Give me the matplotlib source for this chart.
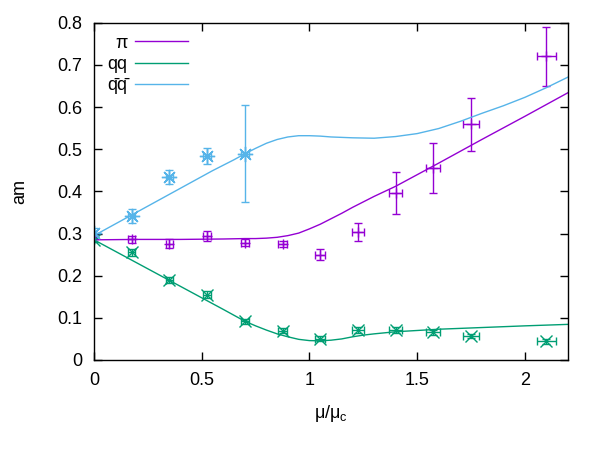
import matplotlib
matplotlib.use("Agg")
import matplotlib.pyplot as plt

plt.rcParams['font.family'] = ['Liberation Sans', 'DejaVu Sans']
plt.rcParams['mathtext.fontset'] = 'custom'
plt.rcParams['mathtext.rm'] = 'Liberation Sans'
plt.rcParams['mathtext.it'] = 'Liberation Sans:italic'

# ---- data ----
x_pts = [0, 0.175, 0.35, 0.525, 0.7, 0.875, 1.05, 1.225, 1.4, 1.575, 1.75, 2.1]
x_err = [0, 0.015, 0.016, 0.017, 0.018, 0.02, 0.022, 0.027, 0.03, 0.032, 0.037, 0.044]

pi_y = [0.292, 0.286, 0.276, 0.294, 0.278, 0.275, 0.25, 0.304, 0.396, 0.455, 0.559, 0.72]
pi_err = [0.005, 0.008, 0.01, 0.012, 0.008, 0.008, 0.013, 0.022, 0.05, 0.06, 0.063, 0.07]

qq_y = [0.285, 0.255, 0.189, 0.155, 0.092, 0.069, 0.05, 0.071, 0.072, 0.066, 0.057, 0.044]
qq_err = [0.005, 0.008, 0.007, 0.008, 0.006, 0.006, 0.006, 0.008, 0.007, 0.006, 0.005, 0.005]

qb_x = [0, 0.175, 0.35, 0.525, 0.7]
qb_xerr = [0, 0.015, 0.016, 0.017, 0.018]
qb_y = [0.302, 0.341, 0.434, 0.484, 0.489]
qb_err = [0.01, 0.017, 0.016, 0.018, 0.115]

pi_fit_x = [0, 0.2, 0.4, 0.6, 0.7, 0.75, 0.8, 0.85, 0.9, 0.95, 1.0, 1.05, 1.1, 1.15, 1.2, 1.25,
            1.3, 1.35, 1.4, 1.6, 1.8, 2.0, 2.2]
pi_fit_y = [0.285, 0.286, 0.286, 0.287, 0.288, 0.288, 0.289, 0.291, 0.295, 0.301, 0.311, 0.322,
            0.335, 0.348, 0.362, 0.375, 0.388, 0.400, 0.412, 0.467, 0.523, 0.578, 0.634]

qq_fit_x = [0, 0.2, 0.4, 0.6, 0.65, 0.7, 0.75, 0.8, 0.85, 0.9, 0.95, 1.0, 1.05, 1.1, 1.15, 1.2,
            1.25, 1.3, 1.4, 1.5, 1.6, 1.8, 2.0, 2.2]
qq_fit_y = [0.285, 0.230, 0.175, 0.120, 0.106, 0.092, 0.081, 0.071, 0.062, 0.055, 0.049, 0.046,
            0.0455, 0.047, 0.050, 0.055, 0.059, 0.062, 0.067, 0.070, 0.073, 0.077, 0.081, 0.0845]

qb_fit_x = [0, 0.2, 0.4, 0.55, 0.6, 0.65, 0.7, 0.75, 0.8, 0.85, 0.9, 0.95, 1.0, 1.05, 1.1, 1.2,
            1.3, 1.4, 1.5, 1.6, 1.7, 1.8, 1.9, 2.0, 2.1, 2.2]
qb_fit_y = [0.295, 0.351, 0.407, 0.449, 0.462, 0.475, 0.489, 0.502, 0.514, 0.523, 0.529, 0.532,
            0.532, 0.531, 0.529, 0.527, 0.526, 0.530, 0.537, 0.549, 0.566, 0.585, 0.603, 0.623,
            0.646, 0.671]

labels = ['π', 'qq', 'q\u0304q\u0304']
colors = ['#9400d3', '#009e73', '#56b4e9']

x_ticks = [0, 0.5, 1, 1.5, 2]
x_ticklabels = ['0', '0.5', '1', '1.5', '2']
y_ticks = [0, 0.1, 0.2, 0.3, 0.4, 0.5, 0.6, 0.7, 0.8]
y_ticklabels = ['0', '0.1', '0.2', '0.3', '0.4', '0.5', '0.6', '0.7', '0.8']

# ---- figure ----
fig = plt.figure(figsize=(6, 4.5), dpi=100)
ax = fig.add_axes([94 / 600, 90 / 450, 474 / 600, 337.3 / 450])

eb = dict(linestyle='none', elinewidth=1.0, capsize=3, capthick=1.0, markeredgewidth=1.0)
ax.errorbar(x_pts, pi_y, xerr=x_err, yerr=pi_err, color=colors[0], marker='+', markersize=7, **eb)
ax.errorbar(x_pts, qq_y, xerr=x_err, yerr=qq_err, color=colors[1], marker='x', markersize=8.5, **eb)
ax.errorbar(qb_x, qb_y, xerr=qb_xerr, yerr=qb_err, color=colors[2], marker=(8, 2, 0), markersize=11, **eb)

l1, = ax.plot(pi_fit_x, pi_fit_y, color=colors[0], lw=1.0, label=labels[0])
l2, = ax.plot(qq_fit_x, qq_fit_y, color=colors[1], lw=1.0, label=labels[1])
l3, = ax.plot(qb_fit_x, qb_fit_y, color=colors[2], lw=1.0, label=labels[2])

ax.set_xlim(0, 2.2)
ax.set_ylim(0, 0.8)
ax.set_xticks(x_ticks)
ax.set_xticklabels(x_ticklabels)
ax.set_yticks(y_ticks)
ax.set_yticklabels(y_ticklabels)
ax.tick_params(direction='in', length=5.5, width=1.0, top=True, right=True,
               labelsize=13, colors='black')
ax.tick_params(axis='x', pad=8.5)
ax.tick_params(axis='y', pad=8.5)
for s in ax.spines.values():
    s.set_linewidth(1.0)

ax.set_xlabel('μ/μ$_\\mathrm{c}$', fontsize=13, labelpad=10)
ax.set_ylabel('am', fontsize=13, labelpad=21)

leg = ax.legend(handles=[l1, l2, l3], loc='upper right', bbox_to_anchor=(0.198, 0.965),
                frameon=False, markerfirst=False, fontsize=13, handlelength=2.9,
                handletextpad=0.45, labelspacing=0.24, borderpad=0, borderaxespad=0)

fig.savefig('out.png', dpi=100)
